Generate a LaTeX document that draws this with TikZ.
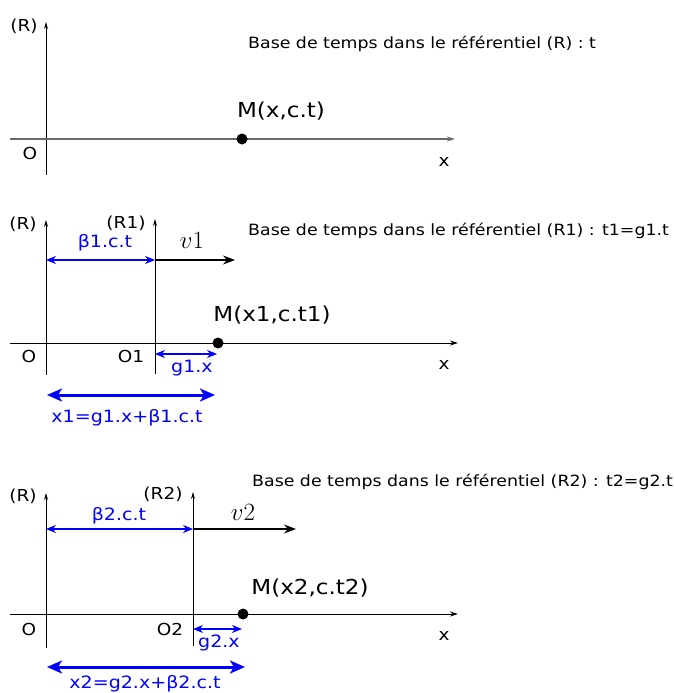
\documentclass[tikz,border=0pt]{standalone}
\usepackage{fontspec}
\setmainfont{DejaVu Sans}[FakeStretch=1.12]
\usepackage{tikz}
\usetikzlibrary{arrows.meta}
\definecolor{dimblue}{RGB}{0,0,255}
\definecolor{axisgray}{RGB}{105,105,105}
\tikzset{
  vaxis/.style  = {-{Stealth[length=7pt, width=4pt]}, line width=0.8pt, draw=black},
  haxis/.style  = {-{Stealth[length=8pt, width=5pt]}, line width=1pt, draw=black},
  speed/.style  = {-{Stealth[length=12pt, width=9pt]}, line width=1.3pt, draw=black},
  dimarr/.style = {{Stealth[length=10pt, width=8pt]}-{Stealth[length=10pt, width=8pt]}, line width=1.2pt, draw=dimblue},
  sumarr/.style = {{Stealth[length=15pt, width=13pt, inset=4pt]}-{Stealth[length=15pt, width=13pt, inset=4pt]}, line width=3pt, draw=dimblue},
  dot/.style    = {circle, fill=black, minimum size=11pt, inner sep=0pt},
  lbl/.style    = {inner sep=0pt, font=\fontsize{16.5}{19}\selectfont},
  blbl/.style   = {inner sep=0pt, text=dimblue, font=\fontsize{17}{19}\selectfont},
  mlbl/.style   = {inner sep=0pt, font=\fontsize{20.6}{23}\selectfont},
  vlbl/.style   = {inner sep=0pt, font=\fontsize{24}{26}\selectfont},
  basetxt/.style= {inner sep=0pt, anchor=west, font=\fontsize{15.5}{18}\selectfont},
}
\begin{document}
\begin{tikzpicture}[x=1pt, y=-1pt]
  \useasboundingbox (0,0) rectangle (673,693);

  % ---- frame (R) alone ----
  \coordinate (R0b) at (46,175);
  \coordinate (R0t) at (46,22);
  \coordinate (X0a) at (10,139);
  \coordinate (X0b) at (455,139);
  \draw[vaxis] (R0b) -- (R0t);
  \draw[haxis, draw=axisgray, line width=1.5pt] (X0a) -- (X0b);
  \node[lbl] (R0lab) at (24,26) {(R)};
  \node[lbl] (O0lab) at (30,153) {O};
  \node[lbl] (x0lab) at (444,162) {x};
  \node[dot] (M0) at (242,139) {};
  \node[mlbl] (M0lab) at (281,111) {M(x,c.t)};
  \node[basetxt] (B0) at (248,44) {Base de temps dans le référentiel (R) : t};

  % ---- frames (R) and (R1) ----
  \coordinate (R1b) at (46,375);
  \coordinate (R1t) at (46,220);
  \coordinate (S1b) at (155,374);
  \coordinate (S1t) at (155,219);
  \coordinate (X1a) at (10,343);
  \coordinate (X1b) at (458,343);
  \draw[vaxis] (R1b) -- (R1t);
  \draw[vaxis] (S1b) -- (S1t);
  \draw[haxis] (X1a) -- (X1b);
  \node[lbl] (R1lab) at (23,224) {(R)};
  \node[lbl] (S1lab) at (126,223) {(R1)};
  \node[lbl] (O1lab) at (29,356) {O};
  \node[lbl] (P1lab) at (131,356) {O1};
  \node[lbl] (x1lab) at (444,365) {x};
  \node[dot] (M1) at (218,343) {};
  \node[mlbl] (M1lab) at (272,315) {M(x1,c.t1)};
  \node[basetxt] (B1) at (248,231) {Base de temps dans le référentiel (R1) : t1=g1.t};

  % offset of O1 and speed v1
  \coordinate (b1a) at (46,260);
  \coordinate (b1b) at (155,260);
  \coordinate (v1e) at (235,260);
  \draw[speed] (b1b) -- (v1e);
  \draw[dimarr] (b1a) -- (b1b);
  \node[blbl] (b1lab) at (105,243) {β1.c.t};
  \node[vlbl] (v1lab) at (192,240) {$v1$};

  % g1.x and total x1
  \coordinate (g1a) at (155,354);
  \coordinate (g1b) at (217,354);
  \draw[dimarr] (g1a) -- (g1b);
  \node[blbl] (g1lab) at (192,368) {g1.x};
  \coordinate (s1a) at (47,395);
  \coordinate (s1b) at (215,395);
  \draw[sumarr] (s1a) -- (s1b);
  \node[blbl] (s1lab) at (127,418) {x1=g1.x+β1.c.t};

  % ---- frames (R) and (R2) ----
  \coordinate (R2b) at (46,648);
  \coordinate (R2t) at (46,493);
  \coordinate (S2b) at (193,646);
  \coordinate (S2t) at (193,492);
  \coordinate (X2a) at (10,614);
  \coordinate (X2b) at (458,614);
  \draw[vaxis] (R2b) -- (R2t);
  \draw[vaxis] (S2b) -- (S2t);
  \draw[haxis] (X2a) -- (X2b);
  \node[lbl] (R2lab) at (23,496) {(R)};
  \node[lbl] (S2lab) at (163,494) {(R2)};
  \node[lbl] (O2lab) at (29,629) {O};
  \node[lbl] (P2lab) at (170,629) {O2};
  \node[lbl] (x2lab) at (444,636) {x};
  \node[dot] (M2) at (243,614) {};
  \node[mlbl] (M2lab) at (310,588) {M(x2,c.t2)};
  \node[basetxt] (B2) at (252,482) {Base de temps dans le référentiel (R2) : t2=g2.t};

  % offset of O2 and speed v2
  \coordinate (b2a) at (46,529);
  \coordinate (b2b) at (193,529);
  \coordinate (v2e) at (296,529);
  \draw[speed] (b2b) -- (v2e);
  \draw[dimarr] (b2a) -- (b2b);
  \node[blbl] (b2lab) at (119,516) {β2.c.t};
  \node[vlbl] (v2lab) at (243,512) {$v2$};

  % g2.x and total x2
  \coordinate (g2a) at (193,629);
  \coordinate (g2b) at (242,629);
  \draw[dimarr] (g2a) -- (g2b);
  \node[blbl] (g2lab) at (219,643) {g2.x};
  \coordinate (s2a) at (47,667);
  \coordinate (s2b) at (245,667);
  \draw[sumarr] (s2a) -- (s2b);
  \node[blbl] (s2lab) at (145,684) {x2=g2.x+β2.c.t};
\end{tikzpicture}
\end{document}
